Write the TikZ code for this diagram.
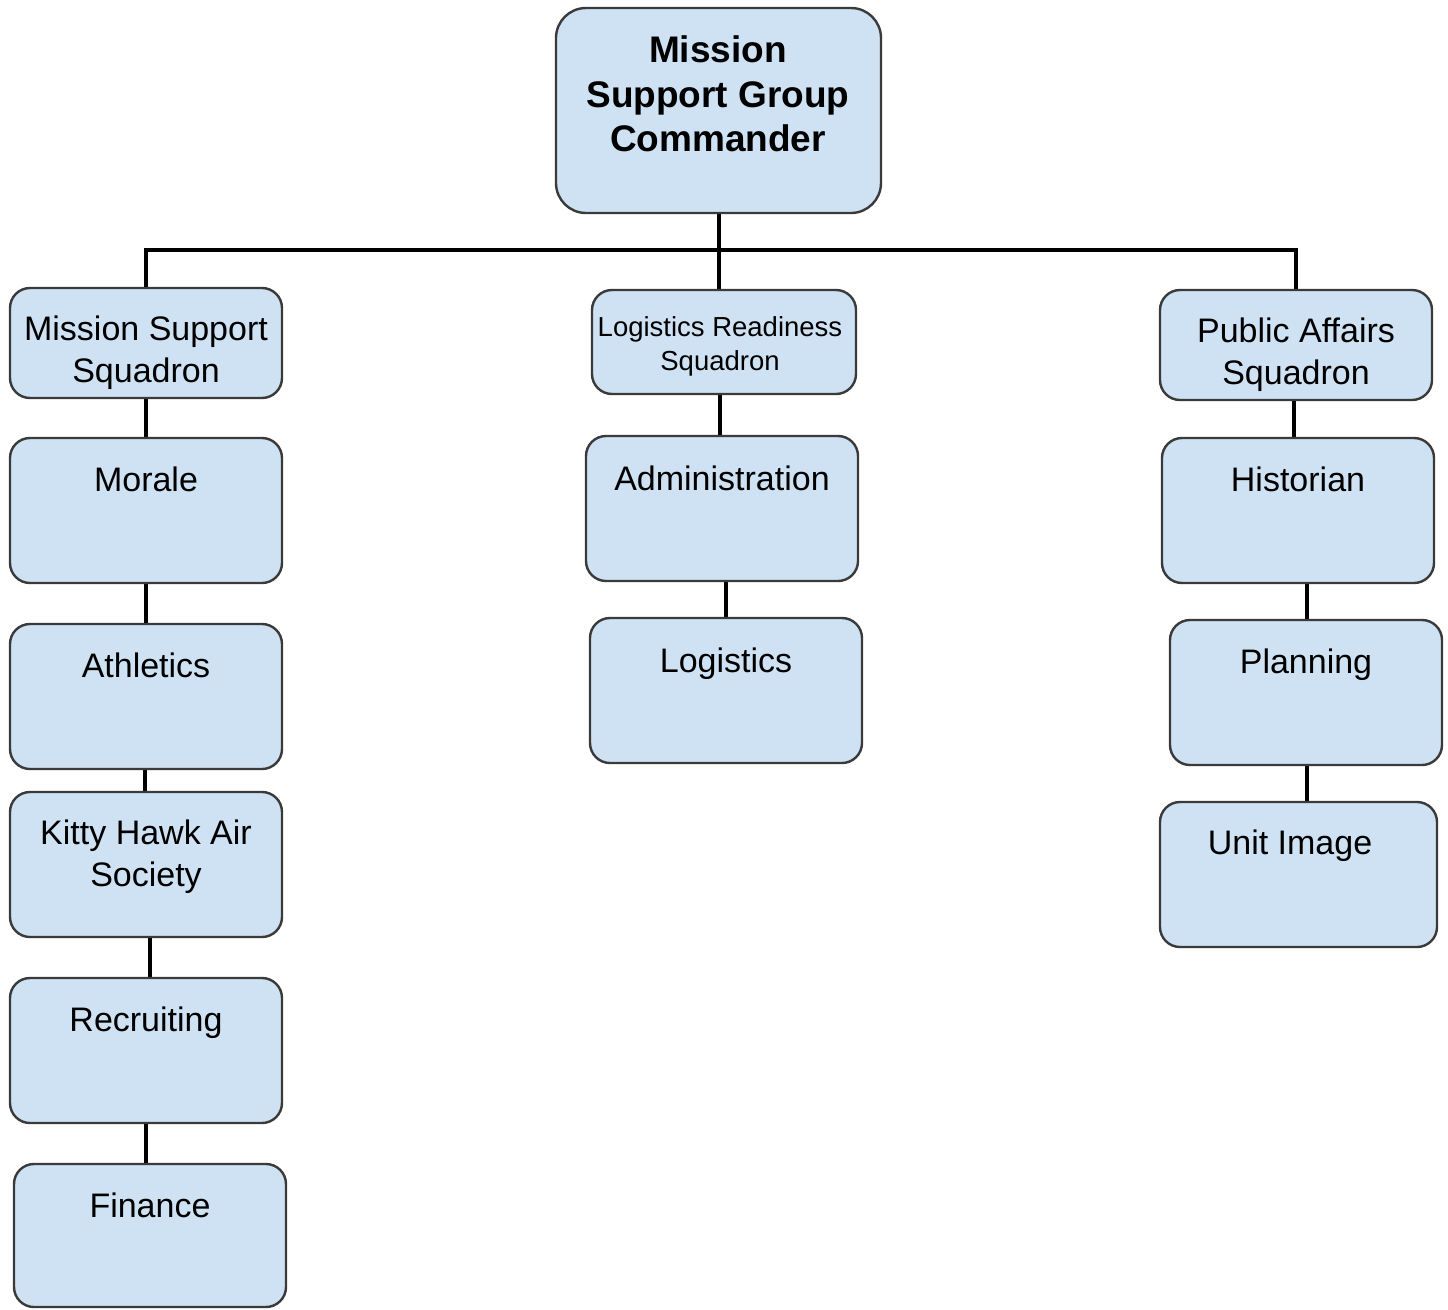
\documentclass[tikz,border=0pt]{standalone}
\usepackage{fontspec}
\setmainfont{Liberation Sans}
\usetikzlibrary{backgrounds}
\definecolor{boxfill}{HTML}{CFE2F3}
\definecolor{boxline}{HTML}{3A3A3A}
\begin{document}
\begin{tikzpicture}[x=1pt, y=-1pt,
  unit/.style={draw=boxline, fill=boxfill, line width=2.4pt, rounded corners=20pt,
    inner sep=0pt, minimum width=272pt, minimum height=145pt},
  head/.style={unit, minimum height=110pt},
  lbl/.style={inner sep=0pt, font=\fontsize{34}{42}\selectfont, align=center},
  small/.style={inner sep=0pt, font=\fontsize{27.5}{34}\selectfont, align=center},
  bold/.style={inner sep=0pt, font=\fontsize{37}{44.5}\selectfont\bfseries, align=center},
  conn/.style={draw=black, line width=4pt}]
\useasboundingbox (0,0) rectangle (1448,1309);

% top commander
\node[unit, minimum width=325pt, minimum height=205pt, rounded corners=30pt] (cmd) at (718.5,110.5) {};
\node[bold] (cmdt) at (718,94) {Mission\\Support Group\\Commander};

% left branch
\node[head] (mss) at (146,343) {};
\node[lbl] (msst) at (146,353) {Mission Support\\Squadron};
\node[unit] (morale) at (146,510.5) {};
\node[lbl, anchor=base] (moralet) at (146,491) {Morale};
\node[unit] (athl) at (146,696.5) {};
\node[lbl, anchor=base] (athlt) at (146,677) {Athletics};
\node[unit] (kitty) at (146,864.5) {};
\node[lbl] (kittyt) at (146,857) {Kitty Hawk Air\\Society};
\node[unit] (recr) at (146,1050.5) {};
\node[lbl, anchor=base] (recrt) at (146,1031) {Recruiting};
\node[unit, minimum height=143pt] (fin) at (150,1235.5) {};
\node[lbl, anchor=base] (fint) at (150,1217) {Finance};

% middle branch
\node[head, minimum width=264pt, minimum height=104pt] (lrs) at (724,342) {};
\node[small] (lrst) at (720,346) {Logistics Readiness\\Squadron};
\node[unit] (admin) at (722,508.5) {};
\node[lbl, anchor=base] (admint) at (722,490) {Administration};
\node[unit] (logi) at (726,690.5) {};
\node[lbl, anchor=base] (logit) at (726,672) {Logistics};

% right branch
\node[head] (pas) at (1296,345) {};
\node[lbl] (past) at (1296,355) {Public Affairs\\Squadron};
\node[unit] (hist) at (1298,510.5) {};
\node[lbl, anchor=base] (histt) at (1298,491) {Historian};
\node[unit] (plan) at (1306,692.5) {};
\node[lbl, anchor=base] (plant) at (1306,673) {Planning};
\node[unit, minimum width=277pt] (unitimg) at (1298.5,874.5) {};
\node[lbl, anchor=base] (unitimgt) at (1290,854) {Unit Image};

% connectors
\coordinate (bus) at (0,250);
\begin{scope}[on background layer]
  \draw[conn] (cmd.south) -- (cmd.south |- lrs.north);
  \draw[conn] (mss.north) -- (mss.north |- bus) -- (pas.north |- bus) -- (pas.north);
  \draw[conn] (mss.south) -- (morale.north);
  \draw[conn] (morale.south) -- (athl.north);
  \draw[conn] ([xshift=-1pt]athl.south) -- ([xshift=-1pt]kitty.north);
  \draw[conn] ([xshift=4pt]kitty.south) -- ([xshift=4pt]recr.north);
  \draw[conn] (recr.south) -- (recr.south |- fin.north);
  \draw[conn] ([xshift=-4pt]lrs.south) -- ([xshift=-4pt]lrs.south |- admin.north);
  \draw[conn] (logi.north |- admin.south) -- (logi.north);
  \draw[conn] ([xshift=-2pt]pas.south) -- ([xshift=-2pt]pas.south |- hist.north);
  \draw[conn] ([xshift=1pt]plan.north |- hist.south) -- ([xshift=1pt]plan.north);
  \draw[conn] ([xshift=1pt]plan.south) -- ([xshift=1pt]plan.south |- unitimg.north);
\end{scope}
\end{tikzpicture}
\end{document}
